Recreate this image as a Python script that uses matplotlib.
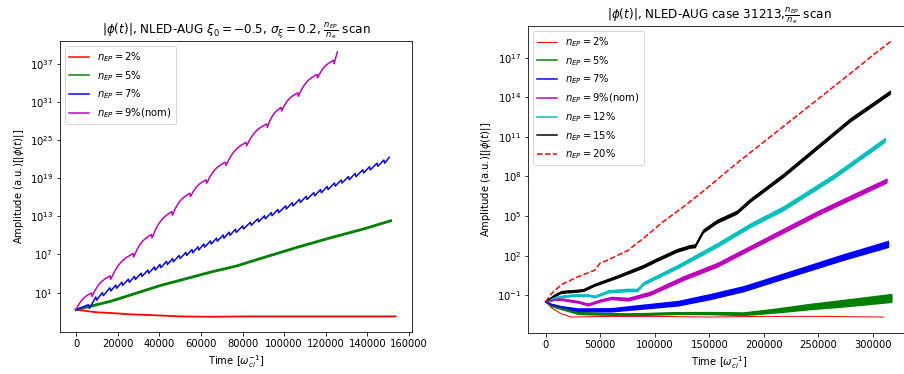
import numpy as np
import matplotlib
matplotlib.use("Agg")
import matplotlib.pyplot as plt
from matplotlib.ticker import NullLocator

# ---------------- left panel: xi0 = -0.5, sigma_xi = 0.2 ----------------
# time [1/omega_ci] and log10 |phi(t)|
left_labels = [r"$n_{EP} = 2\%$", r"$n_{EP} = 5\%$", r"$n_{EP} = 7\%$",
               r"$n_{EP} = 9\%$(nom)"]

t_a2 = [0, 5000, 10000, 16300, 25000, 40400, 50000, 64400, 80000, 100000,
        120000, 140000, 153600]
lg_a2 = [-1.7, -1.9, -2.1, -2.2, -2.4, -2.6, -2.75, -2.8, -2.75, -2.75,
         -2.75, -2.75, -2.75]

t_a5 = [0, 5000, 16300, 40400, 64400, 77200, 90000, 106000, 122000, 138000,
        151200]
lg_a5 = [-1.7, -1.3, -0.4, 2.1, 4.2, 5.2, 6.5, 8.1, 9.6, 11.0, 12.3]

# 7 %: scalloped growth -- troughs and crests of each oscillation
t_a7_dip = [6400, 9900, 13100, 16700, 19500, 22400, 25600, 28500, 31700,
            34900, 38100, 40700, 43900, 46800, 50000, 53200, 56100, 59000,
            61800, 65000, 67900, 71100, 74000, 77000, 80500, 84200, 87800,
            91000, 94200, 97400, 101100, 104300, 107800, 111000, 114700,
            117900, 121100, 124600, 127800, 131300, 134500, 138200, 141400,
            145000, 148300]
lg_a7_dip = [-1.5, -0.19, 0.51, 1.26, 1.69, 2.13, 2.62, 3.06, 3.55, 4.04,
             4.53, 4.93, 5.42, 5.86, 6.35, 6.84, 7.28, 7.72, 8.15, 8.64,
             9.08, 9.57, 10.02, 10.48, 11.01, 11.58, 12.13, 12.61, 13.10,
             13.59, 14.16, 14.65, 15.18, 15.67, 16.24, 16.72, 17.21, 17.75,
             18.24, 18.77, 19.26, 19.83, 20.32, 20.87, 21.37]
t_a7_top = [0, 6000, 9500, 12700, 16300, 19100, 22000, 25200, 28100, 31300,
            34500, 37700, 40300, 43500, 46400, 49600, 52800, 55700, 58600,
            61400, 64600, 67500, 70700, 73600, 76600, 80100, 83800, 87400,
            90600, 93800, 97000, 100700, 103900, 107400, 110600, 114300,
            117500, 120700, 124200, 127400, 130900, 134100, 137800, 141000,
            144600, 147900, 150500]
lg_a7_top = [-1.7, -0.9, 0.31, 1.01, 1.76, 2.19, 2.63, 3.12, 3.56, 4.05,
             4.54, 5.03, 5.43, 5.92, 6.36, 6.85, 7.34, 7.78, 8.22, 8.65,
             9.14, 9.58, 10.07, 10.52, 10.98, 11.51, 12.08, 12.63, 13.11,
             13.60, 14.09, 14.66, 15.15, 15.68, 16.17, 16.74, 17.22, 17.71,
             18.25, 18.74, 19.27, 19.76, 20.33, 20.82, 21.37, 21.87, 22.3]

# 9 % (nominal): large bursts, each crest followed by a sharp drop
t_a9 = [0, 1300, 2600, 4000, 5300, 7400,
        7700, 9230, 10760, 12380, 13910, 16400,
        16700, 18570, 20440, 22420, 24290, 27400,
        27700, 29200, 30690, 32280, 33770, 36200,
        36500, 38170, 39830, 41600, 43260, 46000,
        46300, 47780, 49260, 50820, 52300, 54700,
        55000, 56330, 57650, 59060, 60380, 62500,
        62800, 64380, 65960, 67640, 69220, 71800,
        72100, 73780, 75470, 77250, 78930, 81700,
        82000, 83680, 85370, 87150, 88830, 91600,
        91900, 93070, 94250, 95490, 96660, 98500,
        98800, 100160, 101520, 102960, 104320, 106500,
        106800, 108380, 109960, 111640, 113220, 115800,
        116100, 117440, 118790, 120210, 121550, 123700,
        124000, 124800, 125600]
lg_a9 = [-1.7, -0.88, -0.24, 0.23, 0.55, 0.95,
         0.4, 1.41, 2.19, 2.77, 3.16, 3.65,
         3.1, 4.36, 5.33, 6.06, 6.54, 7.15,
         6.6, 7.70, 8.55, 9.19, 9.62, 10.15,
         9.6, 10.89, 11.88, 12.63, 13.13, 13.75,
         13.2, 14.27, 15.10, 15.72, 16.13, 16.65,
         16.1, 16.92, 17.56, 18.03, 18.35, 18.75,
         18.2, 19.24, 20.04, 20.65, 21.05, 21.55,
         21.0, 22.13, 23.01, 23.66, 24.10, 24.65,
         24.1, 25.17, 26.00, 26.62, 27.03, 27.55,
         27.0, 27.98, 28.73, 29.30, 29.68, 30.15,
         29.6, 30.48, 31.17, 31.68, 32.02, 32.45,
         31.9, 32.97, 33.80, 34.42, 34.83, 35.35,
         34.8, 35.65, 36.31, 36.81, 37.14, 37.55,
         37.0, 38.0, 38.9]

# ---------------- right panel: AUG case 31213 ----------------
right_labels = [r"$n_{EP} = 2\%$", r"$n_{EP} = 5\%$", r"$n_{EP} = 7\%$",
                r"$n_{EP} = 9\%$(nom)", r"$n_{EP} = 12\%$",
                r"$n_{EP} = 15\%$", r"$n_{EP} = 20\%$"]

t_b2 = [0, 6000, 14300, 23500, 60000, 100000, 150000, 200000, 250000, 309700]
lg_b2 = [-1.5, -2.0, -2.4, -2.65, -2.6, -2.6, -2.65, -2.6, -2.6, -2.65]

# centre of the noisy band and its half spread (decades)
t_b5 = [0, 5000, 14300, 29600, 75500, 121400, 150700, 181300, 211900,
        242500, 273000, 317400]
lg_b5 = [-1.5, -1.8, -2.0, -2.35, -2.45, -2.35, -2.35, -2.4, -2.15, -1.85,
         -1.6, -1.2]
sp_b5 = [0.05, 0.08, 0.1, 0.12, 0.12, 0.12, 0.13, 0.15, 0.2, 0.25, 0.3, 0.35]

t_b7 = [0, 5000, 14300, 29600, 60200, 90800, 121400, 150700, 181300, 211900,
        242500, 273000, 314300]
lg_b7 = [-1.5, -1.7, -1.9, -2.1, -2.1, -1.85, -1.6, -1.1, -0.5, 0.3, 1.1,
         1.9, 2.9]
sp_b7 = [0.05, 0.1, 0.12, 0.15, 0.17, 0.2, 0.22, 0.24, 0.24, 0.24, 0.25,
         0.26, 0.28]

t_b9 = [0, 8000, 14300, 29600, 38800, 50000, 60200, 75500, 95700, 126200,
        156900, 187400, 218000, 248600, 279200, 312800]
lg_b9 = [-1.5, -1.3, -1.3, -1.5, -1.7, -1.4, -1.2, -1.3, -0.85, 0.3, 1.3,
         2.6, 3.9, 5.2, 6.4, 7.7]
sp_b9 = [0.05, 0.1, 0.11, 0.11, 0.12, 0.12, 0.13, 0.15, 0.17, 0.19, 0.19,
         0.19, 0.2, 0.2, 0.2, 0.2]

t_b12 = [0, 8000, 14300, 25000, 38800, 45000, 57200, 75500, 84000, 89500,
         121400, 156900, 187400, 218000, 263900, 311300]
lg_b12 = [-1.5, -1.2, -1.1, -1.0, -1.0, -1.1, -0.7, -0.6, -0.6, -0.1, 1.2,
          2.8, 4.3, 5.6, 8.0, 10.8]
sp_b12 = [0.05, 0.1, 0.11, 0.11, 0.11, 0.11, 0.13, 0.14, 0.14, 0.15, 0.17,
          0.19, 0.19, 0.2, 0.2, 0.2]

t_b15 = [0, 8300, 14300, 29600, 34500, 45000, 65100, 89500, 101800, 120200,
         132000, 137000, 144600, 156900, 175200, 187400, 218000, 248600,
         279200, 315900]
lg_b15 = [-1.5, -1.0, -0.75, -0.65, -0.6, -0.2, 0.4, 1.2, 1.7, 2.4, 2.7,
          2.75, 3.9, 4.6, 5.3, 6.2, 8.1, 10.2, 12.3, 14.4]
sp_b15 = [0.05, 0.1, 0.12, 0.12, 0.12, 0.12, 0.13, 0.15, 0.15, 0.15, 0.15,
          0.15, 0.16, 0.16, 0.16, 0.16, 0.17, 0.17, 0.17, 0.17]

t_b20 = [0, 5000, 14300, 29600, 45000, 49500, 60200, 75500, 90800, 108000,
         126200, 144600, 172100, 202700, 227200, 257800, 282200, 300000,
         317400]
lg_b20 = [-1.5, -0.9, -0.2, 0.4, 0.9, 1.4, 1.8, 2.4, 3.4, 4.6, 5.7, 6.9, 8.8,
          10.8, 12.4, 14.4, 16.0, 17.2, 18.3]


def amp(lg):
    return 10.0 ** np.asarray(lg, dtype=float)


def merge(t1, v1, t2, v2):
    """Order two sets of (time, value) samples into one time series."""
    t = np.concatenate([t1, t2])
    v = np.concatenate([v1, v2])
    order = np.argsort(t, kind="stable")
    return t[order], v[order]


W, H = 904, 374
fig = plt.figure(figsize=(W / 72, H / 72), dpi=72)
axL = fig.add_axes([60 / W, 1 - 332 / H, 352 / W, 291 / H])
axR = fig.add_axes([528.4 / W, 1 - 333 / H, 381.6 / W, 307 / H])

# ---- left ----
t7, lg7 = merge(t_a7_top, lg_a7_top, t_a7_dip, lg_a7_dip)
axL.plot(t_a2, amp(lg_a2), color="r", lw=1.8, label=left_labels[0])
axL.plot(t_a5, amp(lg_a5), color="g", lw=2.8, label=left_labels[1])
axL.plot(t7, amp(lg7), color="b", lw=1.5, label=left_labels[2])
axL.plot(t_a9, amp(lg_a9), color="m", lw=1.5, label=left_labels[3])
axL.set_yscale("log")
axL.set_xlim(-7690, 161440)
axL.set_ylim(10 ** -5.2, 10 ** 40.6)
axL.set_yticks(10.0 ** np.arange(1, 38, 6))
axL.yaxis.set_minor_locator(NullLocator())
axL.set_xticks(np.arange(0, 160001, 20000))
axL.set_title(r"$|\phi(t)|$, NLED-AUG $\xi_0 = -0.5$, $\sigma_\xi = 0.2$, "
              r"$\frac{n_{EP}}{n_e}$ scan", fontsize=12)
axL.set_xlabel(r"Time [$\omega_{ci}^{-1}$]")
axL.set_ylabel(r"Amplitude (a.u.)[$|\phi(t)|$]")
leg = axL.legend(loc="upper left")
for h in leg.get_lines():
    h.set_linewidth(1.5)

# ---- right ----
bands = [
    (t_b5, lg_b5, sp_b5, "g"),
    (t_b7, lg_b7, sp_b7, "b"),
    (t_b9, lg_b9, sp_b9, "m"),
    (t_b12, lg_b12, sp_b12, "c"),
    (t_b15, lg_b15, sp_b15, "k"),
]
axR.plot(t_b2, amp(lg_b2), color="r", lw=1.0, label=right_labels[0])
for (t, lg, sp, c), lab in zip(bands, right_labels[1:6]):
    lg = np.asarray(lg)
    sp = np.asarray(sp)
    axR.fill_between(t, amp(lg - sp), amp(lg + sp), color=c, lw=0)
    axR.plot(t, amp(lg), color=c, lw=1.5, label=lab)
axR.plot(t_b20, amp(lg_b20), color="r", ls="--", lw=1.5, label=right_labels[6])
axR.set_yscale("log")
axR.set_xlim(-15900, 333900)
axR.set_ylim(10 ** -3.86, 10 ** 19.4)
axR.set_yticks(10.0 ** np.arange(-1, 18, 3))
axR.yaxis.set_minor_locator(NullLocator())
axR.set_xticks(np.arange(0, 300001, 50000))
axR.set_title(r"$|\phi(t)|$, NLED-AUG case 31213,$\frac{n_{EP}}{n_e}$ scan",
              fontsize=12)
axR.set_xlabel(r"Time [$\omega_{ci}^{-1}$]")
axR.set_ylabel(r"Amplitude (a.u.)[$|\phi(t)|$]")
axR.legend(loc="upper left")

fig.savefig("out.png", dpi=72)
